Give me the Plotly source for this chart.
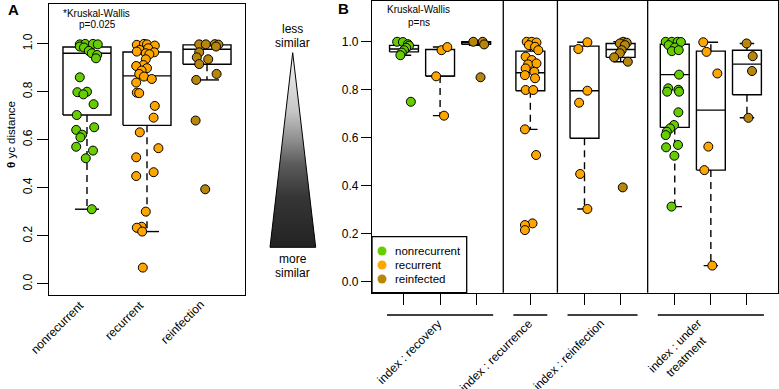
import plotly.graph_objects as go

W, H = 779, 389
FONT = "Liberation Sans, Arial, Helvetica, sans-serif"

# ---------------- data ----------------
COLORS = {"nonrecurrent": "#66CD00", "recurrent": "#FFA500", "reinfected": "#B8860B"}
LEGEND_LABELS = ["nonrecurrent", "recurrent", "reinfected"]

# Panel A: boxplot statistics per category
A_categories = ["nonrecurrent", "recurrent", "reinfection"]
A_status = ["nonrecurrent", "recurrent", "reinfected"]
A_q1 = [0.703, 0.660, 0.914]
A_med = [0.960, 0.866, 0.977]
A_q3 = [0.986, 0.965, 0.995]
A_lo = [0.311, 0.218, 0.849]
A_hi = [1.000, 1.000, 1.000]

# Panel A: individual values (with horizontal jitter in category units)
A_nonrec_vals = [0.997, 0.999, 0.999, 0.997, 0.988, 0.984, 0.970, 0.960, 0.953, 0.939,
                 0.860, 0.798, 0.800, 0.789, 0.748, 0.703, 0.652, 0.641, 0.621, 0.610,
                 0.571, 0.555, 0.523, 0.311]
A_nonrec_jit = [-0.12, -0.03, 0.10, 0.18, -0.12, -0.05, 0.03, 0.08, 0.17, 0.15,
                -0.12, -0.16, 0.00, -0.06, 0.11, -0.17, 0.12, -0.18, -0.08, -0.11,
                -0.18, 0.10, -0.02, 0.08]
A_rec_vals = [0.995, 0.999, 0.997, 0.992, 0.974, 0.981, 0.967, 0.960, 0.964, 0.956,
              0.935, 0.911, 0.907, 0.898, 0.888, 0.874, 0.863, 0.853, 0.838, 0.796,
              0.794, 0.741, 0.692, 0.631, 0.565, 0.527, 0.465, 0.449, 0.301, 0.238,
              0.234, 0.218, 0.068]
A_rec_jit = [-0.17, -0.05, 0.00, 0.13, -0.12, 0.02, -0.17, -0.02, 0.12, 0.04,
             -0.02, -0.06, -0.18, 0.00, -0.09, -0.13, -0.05, 0.08, -0.18, -0.17,
             -0.13, 0.13, 0.11, -0.12, 0.19, -0.18, 0.11, -0.18, -0.02, -0.09,
             -0.17, -0.08, -0.07]
A_reinf_vals = [0.997, 0.997, 0.998, 0.996, 0.988, 0.964, 0.943, 0.935, 0.915, 0.874,
                0.849, 0.680, 0.394]
A_reinf_jit = [-0.13, -0.02, 0.13, 0.19, 0.15, -0.13, -0.17, 0.02, -0.13, 0.16,
               -0.18, -0.19, -0.03]

# Panel B: boxes (grouped by index status)
B_pos = [1, 2, 3, 4.5, 6, 7, 8.5, 9.5, 10.5]
B_status = ["nonrecurrent", "recurrent", "reinfected", "recurrent", "recurrent",
            "reinfected", "nonrecurrent", "recurrent", "reinfected"]
B_q1 = [0.958, 0.857, 0.989, 0.796, 0.598, 0.935, 0.643, 0.465, 0.779]
B_med = [0.970, 0.857, 0.996, 0.871, 0.796, 0.968, 0.863, 0.715, 0.907]
B_q3 = [0.985, 0.968, 1.000, 0.961, 0.982, 0.993, 0.990, 0.961, 0.965]
B_lo = [0.944, 0.692, 0.985, 0.635, 0.303, 0.917, 0.313, 0.067, 0.683]
B_hi = [1.000, 0.978, 1.000, 1.000, 0.998, 1.000, 1.000, 0.998, 0.993]

B_group_labels = ["index : recovery", "index : recurrence", "index : reinfection",
                  "index : under<br>treatment"]
B_group_members = [[0, 1, 2], [3], [4, 5], [6, 7, 8]]

B_recov_nonrec_vals = [1.000, 0.999, 0.990, 0.984, 0.975, 0.965, 0.955, 0.944, 0.750]
B_recov_nonrec_jit = [-0.19, -0.03, 0.11, 0.14, 0.06, 0.00, -0.06, -0.10, 0.19]
B_recov_rec_vals = [0.965, 0.978, 0.856, 0.692]
B_recov_rec_jit = [0.04, 0.20, -0.11, 0.11]
B_recov_reinf_vals = [1.000, 1.000, 0.989, 0.852]
B_recov_reinf_jit = [-0.08, 0.18, 0.22, 0.12]
B_recur_rec_vals = [1.000, 1.000, 0.997, 0.986, 0.979, 0.965, 0.938, 0.924, 0.906, 0.910,
                    0.889, 0.875, 0.861, 0.848, 0.799, 0.799, 0.635, 0.528, 0.243, 0.236,
                    0.215]
B_recur_rec_jit = [-0.10, 0.04, 0.17, -0.04, 0.13, 0.22, -0.13, 0.04, -0.06, 0.17,
                   -0.13, 0.11, -0.15, 0.13, -0.13, 0.08, -0.15, 0.16, 0.06, -0.15,
                   -0.15]
B_reinf_rec_vals = [0.998, 0.970, 0.796, 0.746, 0.449, 0.303]
B_reinf_rec_jit = [0.08, -0.17, 0.08, -0.15, -0.12, 0.08]
B_reinf_reinf_vals = [1.000, 0.996, 0.993, 0.986, 0.965, 0.952, 0.935, 0.917, 0.393]
B_reinf_reinf_jit = [0.07, 0.17, -0.02, 0.12, 0.03, -0.02, -0.18, 0.20, 0.06]
B_ut_nonrec_vals = [1.000, 1.000, 1.000, 0.999, 0.986, 0.976, 0.961, 0.965, 0.863, 0.806,
                    0.792, 0.800, 0.792, 0.706, 0.653, 0.639, 0.625, 0.611, 0.560, 0.570,
                    0.525, 0.313]
B_ut_nonrec_jit = [-0.25, -0.08, 0.08, 0.17, -0.17, 0.00, -0.08, 0.11, 0.12, -0.18,
                   -0.21, 0.10, 0.12, 0.10, -0.02, -0.13, -0.22, -0.25, -0.24, 0.09,
                   -0.01, -0.09]
B_ut_rec_vals = [0.998, 0.958, 0.868, 0.563, 0.465, 0.067]
B_ut_rec_jit = [-0.21, -0.12, 0.18, -0.07, -0.18, 0.04]
B_ut_reinf_vals = [0.993, 0.940, 0.878, 0.683]
B_ut_reinf_jit = [-0.01, 0.16, 0.14, 0.04]

B_points = [
    (B_recov_nonrec_vals, B_recov_nonrec_jit),
    (B_recov_rec_vals, B_recov_rec_jit),
    (B_recov_reinf_vals, B_recov_reinf_jit),
    (B_recur_rec_vals, B_recur_rec_jit),
    (B_reinf_rec_vals, B_reinf_rec_jit),
    (B_reinf_reinf_vals, B_reinf_reinf_jit),
    (B_ut_nonrec_vals, B_ut_nonrec_jit),
    (B_ut_rec_vals, B_ut_rec_jit),
    (B_ut_reinf_vals, B_ut_reinf_jit),
]

y_ticks = [0.0, 0.2, 0.4, 0.6, 0.8, 1.0]
y_ticktext = ["0.0", "0.2", "0.4", "0.6", "0.8", "1.0"]

# ---------------- styles ----------------
BOX_HALF = 0.4
STAPLE_HALF = 0.2
LW = 1.4
DASH = "7px,5px"
MSIZE = 9

fig = go.Figure()


def add_boxes(pos, q1, med, q3, lo, hi, xa, ya):
    bx, by, mx, my, wx, wy, sx, sy = [], [], [], [], [], [], [], []
    for p, a, m, b, l, h in zip(pos, q1, med, q3, lo, hi):
        bx += [p - BOX_HALF, p + BOX_HALF, p + BOX_HALF, p - BOX_HALF, p - BOX_HALF, None]
        by += [a, a, b, b, a, None]
        mx += [p - BOX_HALF, p + BOX_HALF, None]
        my += [m, m, None]
        wx += [p, p, None, p, p, None]
        wy += [a, l, None, b, h, None]
        sx += [p - STAPLE_HALF, p + STAPLE_HALF, None, p - STAPLE_HALF, p + STAPLE_HALF, None]
        sy += [l, l, None, h, h, None]
    common = dict(xaxis=xa, yaxis=ya, mode="lines", hoverinfo="skip", showlegend=False)
    fig.add_trace(go.Scatter(x=wx, y=wy, line=dict(color="black", width=LW, dash=DASH), **common))
    fig.add_trace(go.Scatter(x=sx, y=sy, line=dict(color="black", width=LW), **common))
    fig.add_trace(go.Scatter(x=bx, y=by, line=dict(color="black", width=LW), **common))
    fig.add_trace(go.Scatter(x=mx, y=my, line=dict(color="black", width=LW), **common))


def add_points(center, vals, jit, status, xa, ya):
    fig.add_trace(go.Scatter(
        x=[center + j for j in jit], y=vals, xaxis=xa, yaxis=ya, mode="markers",
        marker=dict(size=MSIZE, color=COLORS[status], line=dict(color="black", width=1)),
        showlegend=False, hoverinfo="skip"))


# Panel A
A_pos = [1, 2, 3]
add_boxes(A_pos, A_q1, A_med, A_q3, A_lo, A_hi, "x", "y")
for p, (v, j), s in zip(A_pos, [(A_nonrec_vals, A_nonrec_jit), (A_rec_vals, A_rec_jit),
                                (A_reinf_vals, A_reinf_jit)], A_status):
    add_points(p, v, j, s, "x", "y")

# Panel B
add_boxes(B_pos, B_q1, B_med, B_q3, B_lo, B_hi, "x2", "y2")
for p, (v, j), s in zip(B_pos, B_points, B_status):
    add_points(p, v, j, s, "x2", "y2")

# Gradient triangle (decoration, pixel overlay)
TRI_X = [292.7, 315.7, 270.0, 292.7]
TRI_Y = [52.7, 247.3, 247.3, 52.7]
fig.add_trace(go.Scatter(
    x=TRI_X, y=TRI_Y, xaxis="x3", yaxis="y3", mode="lines", fill="toself",
    line=dict(color="black", width=1),
    fillgradient=dict(type="vertical", start=52.7, stop=247.3,
                      colorscale=[[0, "#f6f6f6"], [0.3, "#c6c6c6"], [0.45, "#8e8e8e"],
                                  [0.57, "#5c5c5c"], [0.74, "#363636"], [1, "#222222"]]),
    showlegend=False, hoverinfo="skip"))

# Manual legend in panel B
LEG_Y = [251, 265, 279]
fig.add_trace(go.Scatter(
    x=[382] * 3, y=LEG_Y, xaxis="x3", yaxis="y3", mode="markers",
    marker=dict(size=9, color=[COLORS[k] for k in LEGEND_LABELS]),
    showlegend=False, hoverinfo="skip"))

annotations = []
for yy, lab in zip(LEG_Y, LEGEND_LABELS):
    annotations.append(dict(x=393, y=yy, xref="x3", yref="y3", text=lab, showarrow=False,
                            xanchor="left", yanchor="middle", font=dict(size=11.5)))

shapes = [dict(type="rect", xref="x3", yref="y3", x0=372, x1=466.7, y0=236.7, y1=292.7,
               line=dict(color="black", width=1.3), fillcolor="rgba(0,0,0,0)")]

# separators between groups in B
for k in range(len(B_group_members) - 1):
    a = B_pos[B_group_members[k][-1]]
    b = B_pos[B_group_members[k + 1][0]]
    shapes.append(dict(type="line", xref="x2", yref="y2 domain", x0=(a + b) / 2, x1=(a + b) / 2,
                       y0=0, y1=1, line=dict(color="black", width=1.3)))

# group underlines & labels
for lab, mem in zip(B_group_labels, B_group_members):
    lo_p = B_pos[mem[0]] - 0.47
    hi_p = B_pos[mem[-1]] + 0.47
    shapes.append(dict(type="line", xref="x2", yref="paper", x0=lo_p, x1=hi_p,
                       y0=1 - 315 / H, y1=1 - 315 / H, line=dict(color="black", width=1.3)))
    c = (B_pos[mem[0]] + B_pos[mem[-1]]) / 2
    annotations.append(dict(x=c, y=1 - 314 / H, xref="x2", yref="paper", text=lab,
                            showarrow=False, textangle=-45, xanchor="right", yanchor="top",
                            xshift=7, font=dict(size=12), align="center"))

# panel A category labels (rotated, right-aligned at the category)
for p, lab in zip(A_pos, A_categories):
    annotations.append(dict(x=p, y=1 - 295 / H, xref="x", yref="paper", text=lab,
                            showarrow=False, textangle=-45, xanchor="right", yanchor="top",
                            xshift=3, font=dict(size=12)))

# texts
annotations += [
    dict(x=13, y=9, xref="x3", yref="y3", text="<b>A</b>", showarrow=False, font=dict(size=15)),
    dict(x=343, y=8, xref="x3", yref="y3", text="<b>B</b>", showarrow=False, font=dict(size=15)),
    dict(x=96, y=13, xref="x3", yref="y3", text="*Kruskal-Wallis", showarrow=False, font=dict(size=10)),
    dict(x=97, y=24.5, xref="x3", yref="y3", text="p=0.025", showarrow=False, font=dict(size=10)),
    dict(x=418, y=9, xref="x3", yref="y3", text="Kruskal-Wallis", showarrow=False, font=dict(size=10)),
    dict(x=419, y=22, xref="x3", yref="y3", text="p=ns", showarrow=False, font=dict(size=10)),
    dict(x=292.7, y=29, xref="x3", yref="y3", text="less", showarrow=False, font=dict(size=12)),
    dict(x=292.7, y=43, xref="x3", yref="y3", text="similar", showarrow=False, font=dict(size=12)),
    dict(x=292.7, y=259, xref="x3", yref="y3", text="more", showarrow=False, font=dict(size=12)),
    dict(x=292.7, y=273, xref="x3", yref="y3", text="similar", showarrow=False, font=dict(size=12)),
    dict(x=11, y=135, xref="x3", yref="y3", text="<b>θ</b> yc distance", showarrow=False,
         textangle=-90, font=dict(size=11.5)),
]

axis_line = dict(showline=True, mirror=True, linecolor="black", linewidth=1.4,
                 showgrid=False, zeroline=False, automargin=False)

fig.update_layout(
    template="none",
    width=W, height=H, margin=dict(l=0, r=0, t=0, b=0, pad=0), autosize=False,
    paper_bgcolor="white", plot_bgcolor="rgba(0,0,0,0)",
    font=dict(family=FONT, color="black", size=12),
    showlegend=False,
    xaxis=dict(domain=[49 / W, 245 / W], range=[0.367, 3.633], tickvals=A_pos,
               showticklabels=False, ticks="", anchor="y", **axis_line),
    yaxis=dict(domain=[1 - 295 / H, 1 - 4 / H], range=[-0.046, 1.165], tickvals=y_ticks,
               ticktext=y_ticktext, tickangle=-90, ticks="outside", ticklen=11,
               tickcolor="black", tickwidth=1.3, anchor="x", tickfont=dict(size=12), **axis_line),
    xaxis2=dict(domain=[372 / W, 778 / W], range=[0.114, 11.36], tickvals=B_pos,
                showticklabels=False, ticks="outside", ticklen=11, tickcolor="black",
                tickwidth=1.3, anchor="y2", **axis_line),
    yaxis2=dict(domain=[1 - 292.7 / H, 1 - 1 / H], range=[-0.046, 1.17], tickvals=y_ticks,
                ticktext=y_ticktext, ticks="outside", ticklen=10, tickcolor="black",
                tickwidth=1.3, anchor="x2", tickfont=dict(size=12), **axis_line),
    xaxis3=dict(domain=[0, 1], range=[0, W], visible=False, anchor="y3", automargin=False),
    yaxis3=dict(domain=[0, 1], range=[H, 0], visible=False, anchor="x3", automargin=False),
    shapes=shapes,
    annotations=annotations,
)

fig.write_html("out.html", config={"displayModeBar": False},
               post_script="document.body.style.margin='0';")
